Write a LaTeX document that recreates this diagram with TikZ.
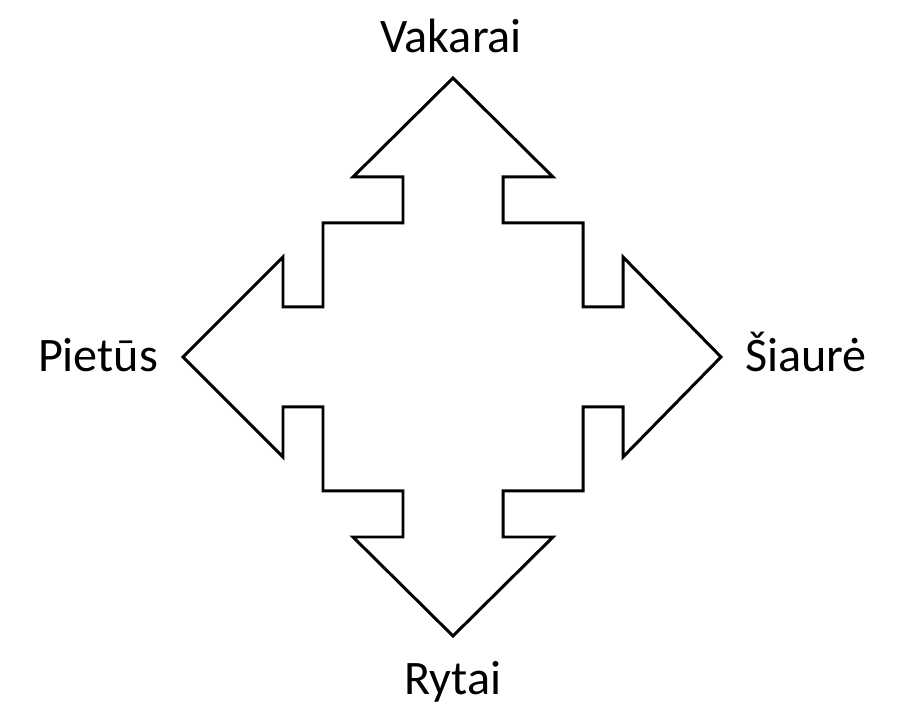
\documentclass[tikz,border=0pt]{standalone}
\usepackage{fontspec}
\setmainfont{Carlito}
\begin{document}
\begin{tikzpicture}[line join=miter, every node/.style={font=\fontsize{13.7}{16}\selectfont}]
			\useasboundingbox (-4.53,-3.63) rectangle (4.69,3.57);
			\draw[line width=0.85pt] (0,2.79) -- (1,1.8)--(0.5,1.8)--(0.5,1.34)--(1.3,1.34)--(1.3,0.5)--(1.7,0.5)--(1.7,1)
			--(2.68,0)--(1.7,-1)--(1.7,-0.5)--(1.3,-0.5)--(1.3,-1.34)--(0.5,-1.34)--(0.5,-1.8)--(1,-1.8)
			--(0,-2.79)--(-1,-1.8)--(-0.5,-1.8)--(-0.5,-1.34)--(-1.3,-1.34)--(-1.3,-0.5)--(-1.7,-0.5)--(-1.7,-1)
			--(-2.7,0)--(-1.7,1)--(-1.7,0.5)--(-1.3,0.5)--(-1.3,1.34)--(-0.5,1.34)--(-0.5,1.8)--(-1,1.8)--cycle;
			\node[anchor=base] (vakarai) at (-0.02,3.04) {Vakarai};
			\node[anchor=base] (rytai) at (0,-3.38) {Rytai};
			\node[anchor=base] (pietus) at (-3.55,-0.15) {Pietūs};
			\node[anchor=base] (siaure) at (3.53,-0.15) {Šiaurė};
		\end{tikzpicture}
\end{document}
